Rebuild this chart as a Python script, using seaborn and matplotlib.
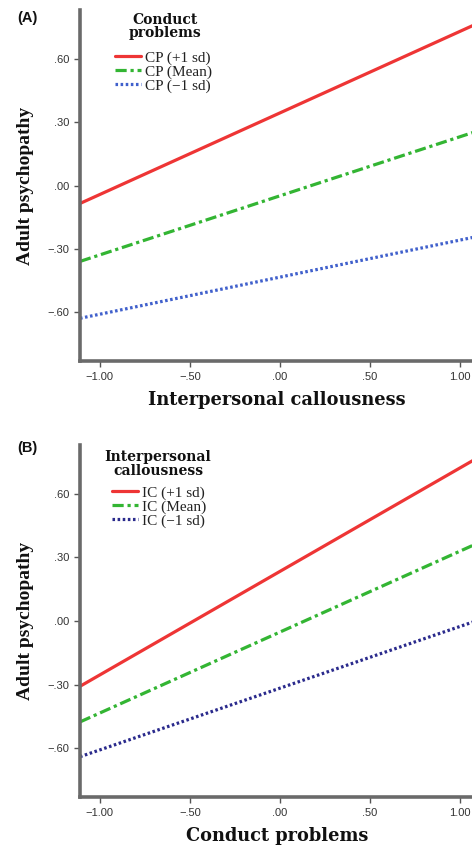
import numpy as np
import pandas as pd
import matplotlib
matplotlib.use("Agg")
import matplotlib.pyplot as plt
from matplotlib.ticker import FuncFormatter
import seaborn as sns

# ---- data ----
x_ends = [-1.11, 1.11]
# Panel A: moderator = Conduct problems
cp_labels = ["CP (+1 sd)", "CP (Mean)", "CP (\u22121 sd)"]
cp_high = [-0.085, 0.771]
cp_mean = [-0.359, 0.261]
cp_low = [-0.628, -0.239]
# Panel B: moderator = Interpersonal callousness
ic_labels = ["IC (+1 sd)", "IC (Mean)", "IC (\u22121 sd)"]
ic_high = [-0.308, 0.775]
ic_mean = [-0.476, 0.371]
ic_low = [-0.640, 0.006]

x_ticks = [-1.0, -0.5, 0.0, 0.5, 1.0]
y_ticks = [-0.6, -0.3, 0.0, 0.3, 0.6]

sns.set_theme(style="white")
plt.rcParams["font.family"] = ["Liberation Sans", "DejaVu Sans"]

W, H = 472, 851
fig = plt.figure(figsize=(W / 100, H / 100), dpi=100)

def fmt(v, pos=None):
    s = f"{abs(v):.2f}"
    if s.startswith("0"):
        s = s[1:]
    return ("\u2212" + s) if v < -1e-9 else s

serif = ["Liberation Serif", "DejaVu Serif"]
wide_serif = ["DejaVu Serif"]

def make_panel(rect, labels, series, colors, title, title_xy, xlabel, tag, tag_y, leg_anchor):
    ax = fig.add_axes(rect)
    rows = []
    for lab, vals in zip(labels, series):
        for xv, yv in zip(x_ends, vals):
            rows.append({"x": xv, "y": yv, "group": lab})
    df = pd.DataFrame(rows)
    dashes = {labels[0]: "", labels[1]: (3.5, 1.2, 1.0, 1.2), labels[2]: (0.8, 0.8)}
    sns.lineplot(data=df, x="x", y="y", hue="group", style="group",
                 hue_order=labels, style_order=labels,
                 palette=dict(zip(labels, colors)), dashes=dashes,
                 linewidth=2.3, legend=False, ax=ax)
    ax.set_xlim(-1.11, 1.11)
    ax.set_ylim(-0.83, 0.83)
    ax.set_xticks(x_ticks)
    ax.set_yticks(y_ticks)
    ax.xaxis.set_major_formatter(FuncFormatter(fmt))
    ax.yaxis.set_major_formatter(FuncFormatter(fmt))
    for sp in ["top", "right"]:
        ax.spines[sp].set_visible(False)
    for sp in ["left", "bottom"]:
        ax.spines[sp].set_color("#6a6a6a")
        ax.spines[sp].set_linewidth(2.6)
    ax.tick_params(axis="both", which="major", direction="out", length=4,
                   width=1.0, color="#555555", labelsize=8, labelcolor="#333333",
                   pad=4, left=True, bottom=True)
    ax.set_xlabel(xlabel, fontsize=12.8, fontweight="bold", family=wide_serif, color="#111111")
    ax.set_ylabel("Adult psychopathy", fontsize=14, fontweight="bold", family=serif, color="#111111")
    ax.xaxis.label.set_va("center")
    ax.yaxis.label.set_va("center")
    ax.xaxis.set_label_coords(0.493, -0.112)
    ax.yaxis.set_label_coords(-0.1376, 0.5)
    fig.text(27 / W, 1 - tag_y / H, tag, ha="center", va="center",
             fontsize=10.5, fontweight="bold", color="#111111")
    fig.text(title_xy[0] / W, 1 - title_xy[1] / H, title, ha="center", va="center",
             multialignment="center", linespacing=1.0,
             fontsize=10, fontweight="bold", family=wide_serif, color="#111111")
    leg = ax.legend(handles=ax.lines[:3], labels=labels,
                    loc="upper left", bbox_to_anchor=leg_anchor,
                    bbox_transform=fig.transFigure, frameon=False,
                    prop={"family": serif, "size": 11},
                    borderpad=0, borderaxespad=0, handlelength=1.7,
                    handletextpad=0.25, labelspacing=0.0)
    for t in leg.get_texts():
        t.set_color("#222222")
    return ax

axA = make_panel([80 / W, 1 - 361 / H, 399.6 / W, 351 / H], cp_labels,
                 [cp_high, cp_mean, cp_low],
                 ["#ee3535", "#33b533", "#4060cc"],
                 "Conduct\nproblems", (165, 26.5), "Interpersonal callousness", "(A)", 18,
                 (115 / W, 1 - 51 / H))
axB = make_panel([80 / W, 1 - 797 / H, 399.6 / W, 352 / H], ic_labels,
                 [ic_high, ic_mean, ic_low],
                 ["#ee3535", "#33b533", "#2a2a8c"],
                 "Interpersonal\ncallousness", (158, 463.5), "Conduct problems", "(B)", 448,
                 (112 / W, 1 - 486 / H))

fig.savefig("out.png", dpi=100, facecolor="white")
